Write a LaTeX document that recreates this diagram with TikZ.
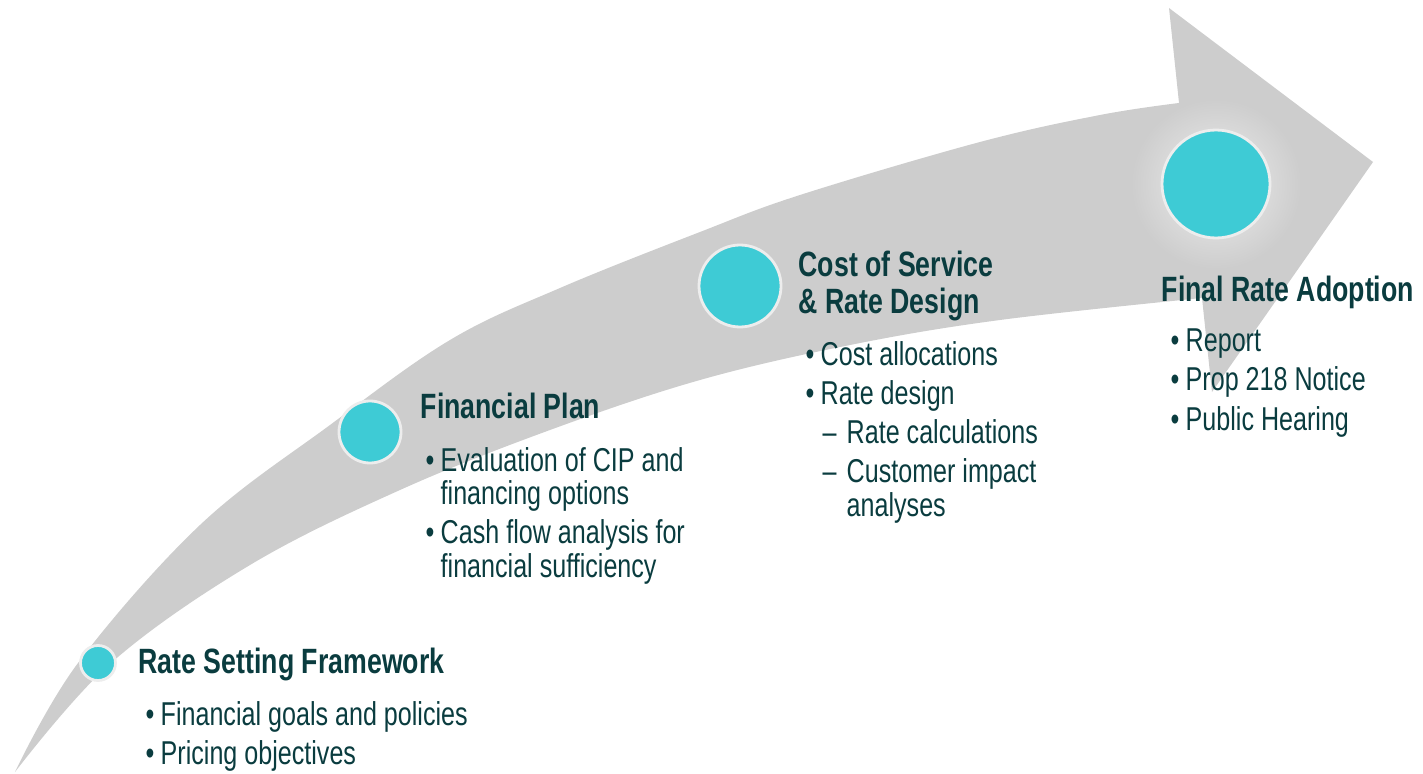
\documentclass[tikz,border=0pt]{standalone}
\usepackage{fontspec}
\setmainfont{Liberation Sans}[FakeStretch=0.76]
\definecolor{bandgray}{HTML}{CDCDCD}
\definecolor{stepcyan}{HTML}{3ECBD5}
\definecolor{ringgray}{HTML}{EDEDED}
\definecolor{glowgray}{HTML}{EEEEEE}
\definecolor{darkteal}{HTML}{0A3C3F}

\newcommand{\bul}{\makebox[0.15cm][l]{\textbullet}}
\newcommand{\hang}{\hspace*{0.15cm}}
\newcommand{\subdash}{\hspace*{0.17cm}\makebox[0.24cm][l]{--}}
\newcommand{\subhang}{\hspace*{0.41cm}}

\begin{document}
\begin{tikzpicture}[
    dot/.style={circle, draw=ringgray, line width=0.8pt, fill=stepcyan, inner sep=0pt},
    head/.style={anchor=base west, inner sep=0pt, text=darkteal, align=left, font=\fontsize{10}{10.3}\selectfont\bfseries},
    items/.style={anchor=base west, inner sep=0pt, text=darkteal, align=left, font=\fontsize{9.4}{9.4}\selectfont}
]
\useasboundingbox (0,0) rectangle (14.23,7.73);

% Arrow band
\fill[bandgray] plot[smooth, tension=0.6] coordinates {(0.15,0.01) (0.78,1.10) (2.00,2.48) (3.30,3.48) (4.50,4.33) (5.60,4.85) (7.00,5.41) (8.00,5.78) (9.80,6.31) (11.00,6.58) (11.79,6.70)}
  -- (11.69,7.65) -- (13.73,6.11) -- (12.12,3.81) -- (12.02,4.75)
  -- plot[smooth, tension=0.6] coordinates {(12.02,4.75) (10.00,4.53) (8.50,4.28) (7.00,3.93) (5.50,3.43) (4.00,2.83) (2.50,2.08) (1.11,1.10) (0.15,0.01)}
  -- cycle;

% Glow behind the last step
\shade[inner color=glowgray, outer color=bandgray] (12.16,5.89) circle (0.85);

% Steps
\node[dot, minimum size=0.35cm] (s1) at (0.98,1.10) {};
\node[dot, minimum size=0.62cm] (s2) at (3.70,3.41) {};
\node[dot, minimum size=0.82cm] (s3) at (7.40,4.87) {};
\node[dot, minimum size=1.08cm] (s4) at (12.16,5.89) {};

% Headings (base = last line)
\node[head] (t1) at (1.38,1.00) {Rate Setting Framework};
\node[head] (t2) at (4.20,3.55) {Financial Plan};
\node[head] (t3) at (7.98,4.60) {Cost of Service\\ \& Rate Design};
\node[head] (t4) at (11.61,4.72) {Final Rate Adoption};

% Bullet lists (base = last line)
\node[items] (b1) at (1.45,0.09) {\bul Financial goals and policies\\[1.6pt] \bul Pricing objectives};
\node[items] (b2) at (4.25,1.96) {\bul Evaluation of CIP and\\ \hang financing options\\[1.7pt] \bul Cash flow analysis for\\ \hang financial sufficiency};
\node[items] (b3) at (8.05,2.57) {\bul Cost allocations\\[1.7pt] \bul Rate design\\[1.7pt] \subdash Rate calculations\\[1.7pt] \subdash Customer impact\\ \subhang analyses};
\node[items] (b4) at (11.70,3.43) {\bul Report\\[1.7pt] \bul Prop 218 Notice\\[1.7pt] \bul Public Hearing};

\end{tikzpicture}
\end{document}
